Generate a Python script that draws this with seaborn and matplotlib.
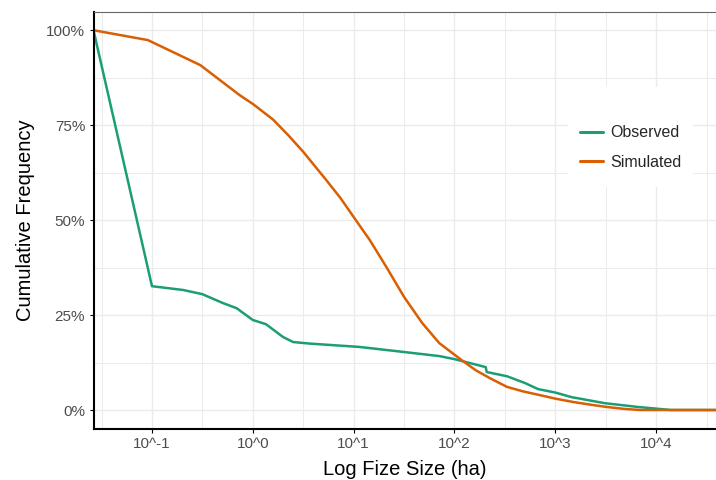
import numpy as np
import pandas as pd
import matplotlib
matplotlib.use("Agg")
import matplotlib.pyplot as plt
import matplotlib.patches as mpatches
import seaborn as sns
from matplotlib.ticker import FixedLocator, FixedFormatter, PercentFormatter, NullFormatter

# ---- data (fire size in ha, cumulative frequency as fraction) ----
obs_size = [0.0263, 0.1, 0.204, 0.316, 0.501, 0.692, 1.0, 1.35, 2.0, 2.51, 3.63,
            11.5, 30.9, 70.8, 100, 204, 209, 331, 501, 676, 1000, 1445, 3090,
            6607, 14125, 38900]
obs_freq = [1.0, 0.326, 0.316, 0.305, 0.282, 0.268, 0.237, 0.226, 0.192, 0.179,
            0.175, 0.166, 0.153, 0.142, 0.134, 0.113, 0.100, 0.089, 0.071, 0.055,
            0.046, 0.034, 0.018, 0.008, 0.0, 0.0]

sim_size = [0.0263, 0.0912, 0.302, 0.741, 1.0, 1.585, 2.24, 3.16, 5.37, 7.41,
            10.2, 14.5, 21.4, 31.6, 47.9, 70.8, 117, 162, 224, 331, 479, 708,
            1000, 1514, 2239, 3236, 4786, 6918, 38900]
sim_freq = [1.0, 0.974, 0.908, 0.829, 0.806, 0.765, 0.724, 0.680, 0.605, 0.558,
            0.505, 0.447, 0.374, 0.298, 0.229, 0.176, 0.132, 0.105, 0.084, 0.061,
            0.049, 0.039, 0.030, 0.021, 0.014, 0.008, 0.003, 0.0, 0.0]

series_names = ["Observed", "Simulated"]
series_colors = ["#1B9E77", "#D95F02"]

x_tick_values = [0.1, 1, 10, 100, 1000, 10000]
x_tick_labels = ["10^-1", "10^0", "10^1", "10^2", "10^3", "10^4"]
y_tick_values = [0, 0.25, 0.5, 0.75, 1.0]

df = pd.DataFrame({
    "size": obs_size + sim_size,
    "freq": obs_freq + sim_freq,
    "type": [series_names[0]] * len(obs_size) + [series_names[1]] * len(sim_size),
})

sns.set_style("white")
plt.rcParams["font.family"] = ["Liberation Sans", "DejaVu Sans"]

fig = plt.figure(figsize=(7.16, 4.8), dpi=100)
ax = fig.add_axes([93.5 / 716, 51 / 480, 1 - 93.5 / 716, (429 - 12) / 480])

sns.lineplot(data=df, x="size", y="freq", hue="type", palette=series_colors,
             hue_order=series_names, estimator=None, sort=False,
             linewidth=1.8, ax=ax)

ax.set_xscale("log")
ax.set_xlim(10 ** -1.58, 10 ** 4.594)
ax.set_ylim(-0.05, 1.048)

ax.xaxis.set_major_locator(FixedLocator(x_tick_values))
ax.xaxis.set_major_formatter(FixedFormatter(x_tick_labels))
minor_x = [10 ** (k + 0.5) for k in range(-2, 5)]
ax.xaxis.set_minor_locator(FixedLocator(minor_x))
ax.xaxis.set_minor_formatter(NullFormatter())

ax.yaxis.set_major_locator(FixedLocator(y_tick_values))
ax.yaxis.set_major_formatter(PercentFormatter(1.0, decimals=0))
ax.yaxis.set_minor_locator(FixedLocator([0.125, 0.375, 0.625, 0.875]))

ax.set_axisbelow(True)
ax.grid(which="major", color="#EBEBEB", linewidth=1.0)
ax.grid(which="minor", color="#EBEBEB", linewidth=0.7)

for s in ["left", "bottom"]:
    ax.spines[s].set_color("black")
    ax.spines[s].set_linewidth(1.5)
ax.spines["top"].set_color("#666666")
ax.spines["top"].set_linewidth(0.8)
ax.spines["right"].set_visible(False)

ax.tick_params(axis="both", which="major", direction="out", length=3, width=0.8,
               color="black", labelsize=11, labelcolor="#4D4D4D", pad=3,
               bottom=True, left=True)
ax.tick_params(axis="both", which="minor", length=0)

ax.set_xlabel("Log Fize Size (ha)", fontsize=14.5, color="black", labelpad=6)
ax.set_ylabel("Cumulative Frequency", fontsize=14.5, color="black", labelpad=8)

# white legend background box (over grid, under lines)
bg = mpatches.Rectangle((568 / 716, 1 - 187 / 480), (693 - 568) / 716, 100 / 480,
                        transform=fig.transFigure, facecolor="white",
                        edgecolor="none", zorder=1)
ax.add_patch(bg)

leg = ax.legend(title=None, loc="center", bbox_to_anchor=(630.5 / 716, 1 - 147.5 / 480),
                bbox_transform=fig.transFigure, frameon=False, fontsize=11.5,
                handlelength=1.45, handletextpad=0.45, labelspacing=0.9,
                borderpad=0.0, borderaxespad=0)
for line in leg.get_lines():
    line.set_linewidth(2.2)

fig.savefig("out.png", dpi=100)
